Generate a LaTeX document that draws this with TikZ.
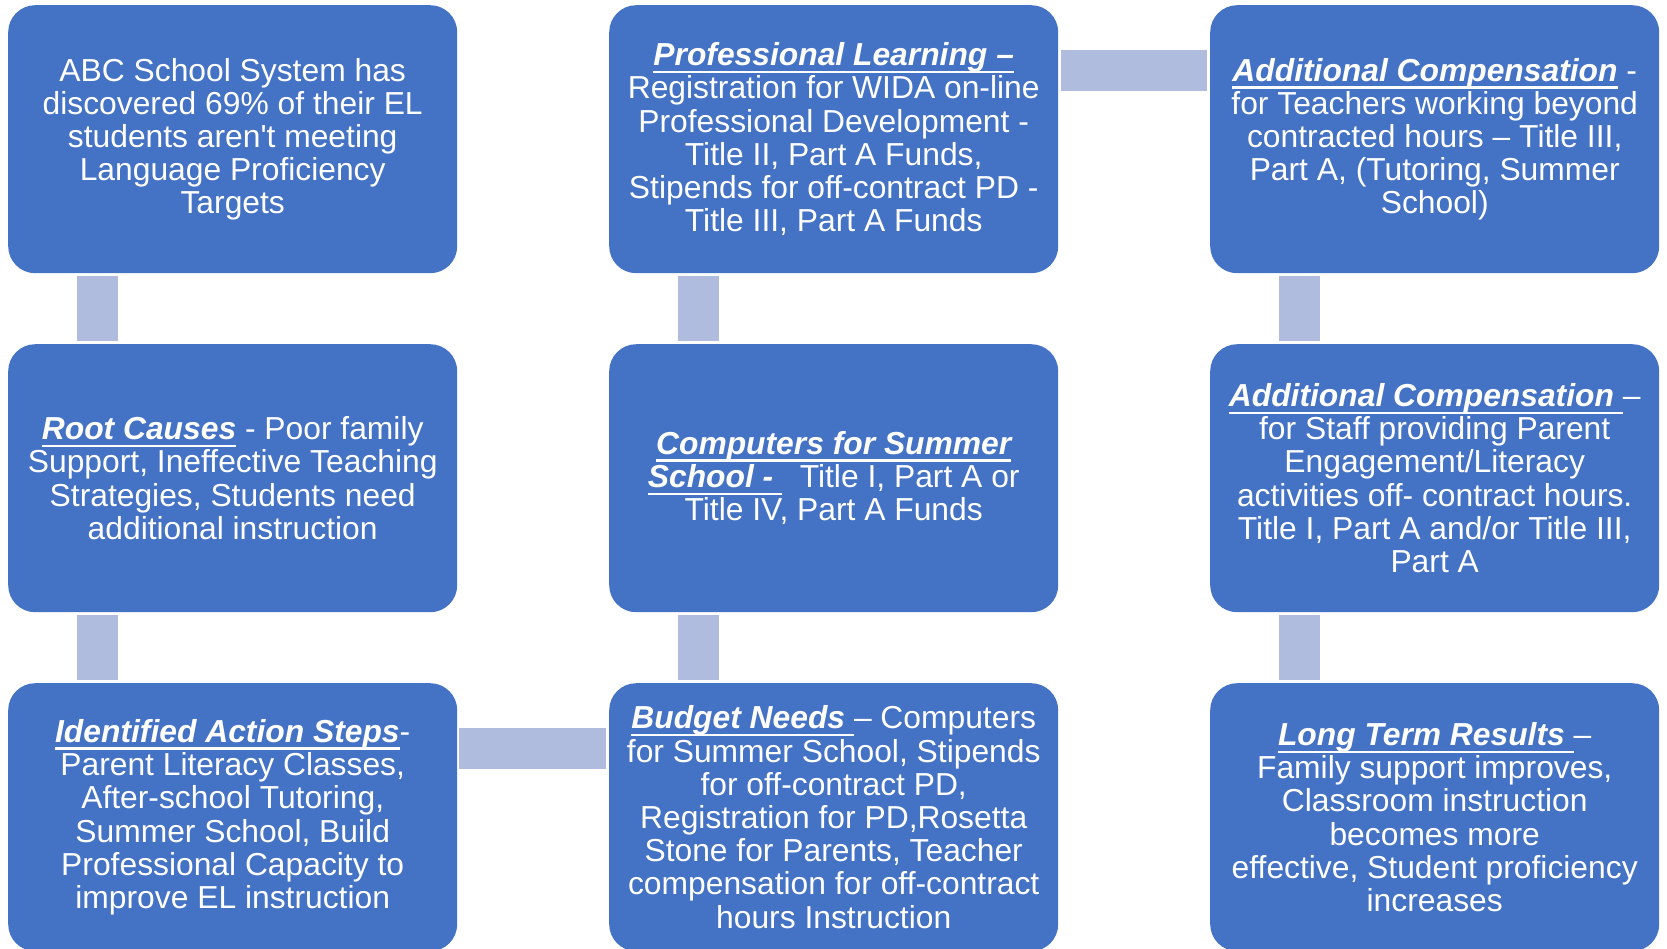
\documentclass[tikz,border=0pt]{standalone}
\usepackage{fontspec}
\setmainfont{Liberation Sans}
\definecolor{boxblue}{HTML}{4472C4}
\definecolor{connblue}{HTML}{B0BCDE}
\newcommand\hd[1]{\sbox0{\bfseries\itshape #1}\usebox0\llap{\rule[-7.5pt]{\wd0}{2.5pt}}}
\begin{document}
\begin{tikzpicture}[x=1pt,y=-1pt,
  box/.style={rectangle, rounded corners=27pt, fill=boxblue, draw=none,
    minimum width=449pt, minimum height=268pt, anchor=north west,
    text=white, align=center, inner sep=0pt,
    font=\fontsize{31.8}{33.2}\selectfont},
  conn/.style={draw=connblue, line width=41pt, line cap=butt}]
\useasboundingbox (0,0) rectangle (1667,948);
\node[box] (b11) at (8,5) {ABC School System has\\discovered 69\% of their EL\\students aren\textquotesingle t meeting\\Language Proficiency\\Targets};
\node[box] (b12) at (609,5) {\hd{Professional Learning –}\\Registration for WIDA on-line\\Professional Development -\\Title II, Part A Funds,\\Stipends for off-contract PD -\\Title III, Part A Funds};
\node[box] (b13) at (1210,5) {\hd{Additional Compensation} -\\for Teachers working beyond\\contracted hours – Title III,\\Part A, (Tutoring, Summer\\School)};
\node[box] (b21) at (8,344) {\hd{Root Causes} - Poor family\\Support, Ineffective Teaching\\Strategies, Students need\\additional instruction};
\node[box] (b22) at (609,344) {\hd{Computers for Summer}\\\hd{School -\ }\ \ Title I, Part A or\\Title IV, Part A Funds};
\node[box] (b23) at (1210,344) {\hd{Additional Compensation\ }–\\for Staff providing Parent\\Engagement/Literacy\\activities off- contract hours.\\Title I, Part A and/or Title III,\\Part A};
\node[box] (b31) at (8,683) {\hd{Identified Action Steps}-\\Parent Literacy Classes,\\After-school Tutoring,\\Summer School, Build\\Professional Capacity to\\improve EL instruction};
\node[box] (b32) at (609,683) {\hd{Budget Needs\ }– Computers\\for Summer School, Stipends\\for off-contract PD,\\Registration for PD,Rosetta\\Stone for Parents, Teacher\\compensation for off-contract\\hours Instruction};
\node[box] (b33) at (1210,683) {\hd{Long Term Results\ }–\\Family support improves,\\Classroom instruction\\becomes more\\effective, Student proficiency\\increases};
% vertical connectors
\foreach \a/\b in {b11/b21,b21/b31,b12/b22,b22/b32,b13/b23,b23/b33}{
  \draw[conn] ([xshift=89.5pt,yshift=-3pt]\a.south west) -- ([xshift=89.5pt,yshift=3pt]\b.north west);
}
% horizontal connectors
\draw[conn] ([xshift=3pt,yshift=-65.5pt]b12.north east) -- ([xshift=-3pt,yshift=-65.5pt]b13.north west);
\draw[conn] ([xshift=2pt,yshift=-65.5pt]b31.north east) -- ([xshift=-3pt,yshift=-65.5pt]b32.north west);
\end{tikzpicture}
\end{document}
